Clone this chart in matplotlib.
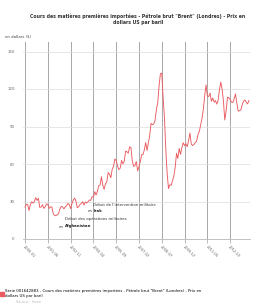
import matplotlib.pyplot as plt
from matplotlib.lines import Line2D
import numpy as np

# Brent monthly price, USD per barrel, 2000-01 .. 2013-12
brent = [
    25.5, 27.8, 27.5, 22.8, 27.6, 29.8, 28.7, 30.0, 33.1, 30.9, 32.6, 25.2,   # 2000
    25.6, 27.5, 24.5, 25.7, 28.1, 27.7, 24.5, 25.7, 25.6, 20.5, 18.9, 18.6,   # 2001
    19.4, 20.3, 24.0, 26.0, 25.7, 24.1, 25.7, 26.6, 28.4, 27.5, 24.3, 28.3,   # 2002
    31.2, 32.8, 30.3, 25.0, 25.8, 27.6, 28.4, 29.8, 27.1, 29.6, 28.8, 29.8,   # 2003
    31.2, 30.9, 33.8, 33.4, 37.9, 35.2, 38.2, 42.7, 43.2, 49.8, 43.1, 39.7,   # 2004
    44.3, 45.5, 53.1, 51.9, 49.0, 55.6, 57.9, 64.0, 62.8, 58.5, 55.5, 56.7,   # 2005
    62.9, 60.2, 62.1, 70.3, 69.8, 68.7, 73.7, 73.2, 62.5, 58.0, 58.8, 62.0,   # 2006
    54.5, 57.8, 62.1, 67.5, 67.5, 71.3, 77.2, 70.8, 77.1, 82.9, 92.5, 91.5,   # 2007
    92.0, 95.0, 103.6, 109.1, 122.8, 132.3, 132.7, 113.2, 97.2, 71.6, 52.5, 40.4,  # 2008
    43.4, 43.0, 46.5, 50.2, 57.3, 68.6, 64.4, 72.5, 67.7, 73.2, 77.0, 74.7,   # 2009
    76.2, 73.8, 78.8, 84.8, 75.9, 74.8, 75.6, 77.1, 78.4, 83.5, 86.1, 91.5,   # 2010
    96.5, 103.7, 114.6, 123.3, 114.5, 113.9, 116.7, 110.2, 112.8, 109.6, 110.8, 107.9,  # 2011
    110.7, 119.3, 125.5, 119.8, 110.3, 95.2, 102.6, 113.4, 113.0, 111.5, 109.5, 109.2,  # 2012
    112.3, 116.1, 108.5, 102.3, 102.6, 103.3, 107.4, 110.3, 111.2, 109.5, 108.1, 110.8,  # 2013
]
months = [f"{2000 + i // 12}-{i % 12 + 1:02d}" for i in range(len(brent))]

tick_step = 17
y_ticks = [0, 30, 60, 90, 120, 150]

title = ("Cours des matières premières importées - Pétrole brut \"Brent\" (Londres) - Prix en\n"
         "dollars US par baril")
unit = "en dollars ($)"
legend_label = ("Série 001642883 - Cours des matières premières importées - Pétrole brut \"Brent\" (Londres) - Prix en\n"
                "dollars US par baril")
note_irak = ("Début de l'intervention militaire", "en", "Irak")
note_afgh = ("Début des opérations militaires", "en", "Afghanistan")

fig = plt.figure(figsize=(2.76, 3.03), dpi=100)
ax = fig.add_axes([23 / 276, 64 / 303, 227 / 276, 197 / 303])

x = np.arange(len(brent))
ax.plot(x, brent, color='#ea5a5f', linewidth=0.65)

ax.set_xlim(-1.5, len(brent) - 0.2)
ax.set_ylim(0, 157.6)
ax.set_yticks(y_ticks)
ax.set_yticklabels([str(v) for v in y_ticks], fontsize=2.8, color='#666666')
ax.set_xticks(x[::tick_step])
ax.set_xticklabels(months[::tick_step], rotation=-45, ha='left', va='top',
                   rotation_mode='anchor', fontsize=2.6, color='#666666')
ax.tick_params(axis='y', length=0, pad=6)
ax.tick_params(axis='x', length=3, width=0.6, color='#b0b0b0', pad=1)

ax.grid(axis='y', color='#dcdcdc', linewidth=0.5)
ax.grid(axis='x', color='#a8a8a8', linewidth=0.7)
ax.set_axisbelow(True)
for side in ['top', 'right', 'left']:
    ax.spines[side].set_visible(False)
ax.spines['bottom'].set_color('#b8b8b8')
ax.spines['bottom'].set_linewidth(0.6)

# event notes
ax.text(50.5, 27.5, note_irak[0], fontsize=2.8, color='#333333', va='center')
ax.text(47.0, 22.5, note_irak[1], fontsize=2.8, color='#333333', va='center')
ax.text(51.5, 22.5, note_irak[2], fontsize=2.8, color='#222222', va='center', fontweight='bold')
ax.text(30.0, 16.0, note_afgh[0], fontsize=2.8, color='#333333', va='center')
ax.text(25.0, 10.0, note_afgh[1], fontsize=2.8, color='#333333', va='center')
ax.text(29.5, 10.0, note_afgh[2], fontsize=2.8, color='#222222', va='center', fontweight='bold')

fig.text(0.5, 0.955, title, ha='center', va='top', fontsize=3.3, fontweight='bold',
         color='#333333', linespacing=1.3)
fig.text(5 / 276, 1 - 36 / 303, unit, ha='left', va='center', fontsize=2.8, color='#444444')

handle = Line2D([], [], color='#ea5a5f', marker='s', markersize=2.2, linewidth=0)
fig.legend([handle], [legend_label], loc='upper left', bbox_to_anchor=(0.0, 1 - 288 / 303),
           frameon=False, fontsize=2.8, handlelength=0.6, handletextpad=0.4,
           borderaxespad=0, borderpad=0.3)
fig.text(16 / 276, 1 - 302 / 303, "Source : Insee", fontsize=2.5, color='#bbbbbb', va='center')

fig.savefig('out.png', dpi=100)
